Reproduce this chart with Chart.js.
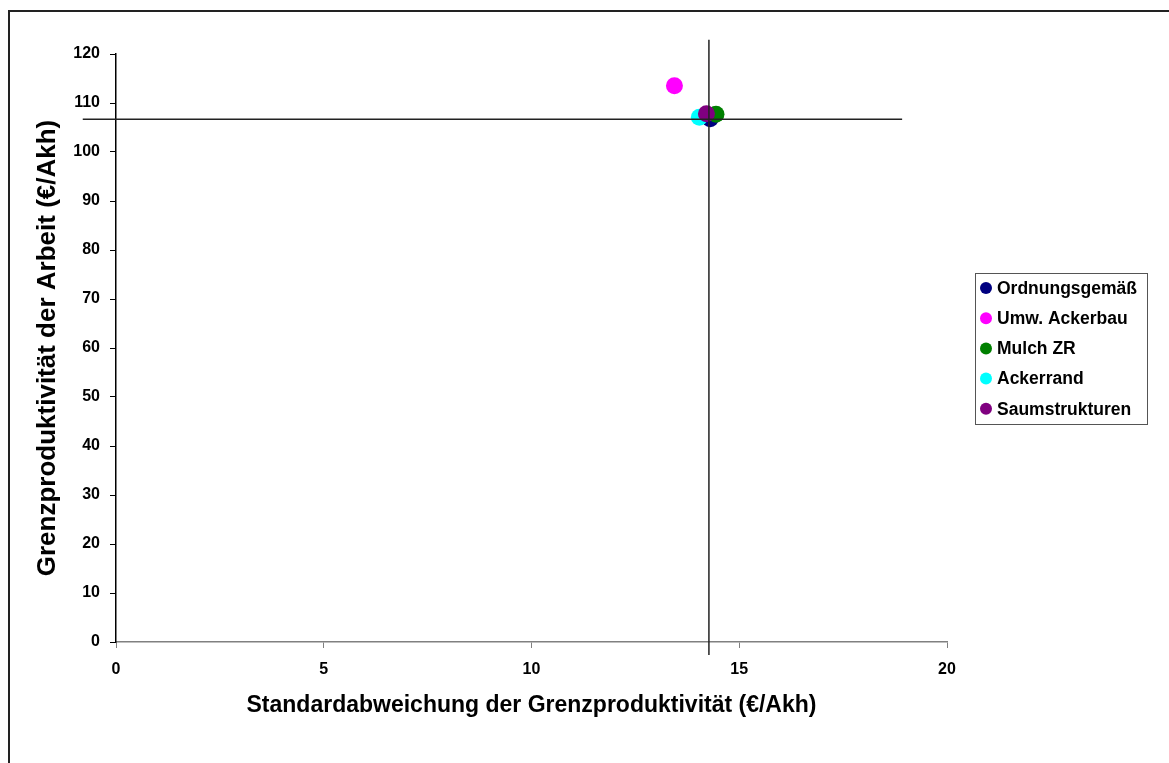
<!DOCTYPE html>
<html>
<head>
<meta charset="utf-8">
<script src="https://cdn.jsdelivr.net/npm/chart.js@4.4.1/dist/chart.umd.min.js"></script>
<style>
  html, body { margin: 0; padding: 0; background: #fff; }
  #wrap { position: relative; width: 1169px; height: 763px; }
  #frame { position: absolute; left: 8px; top: 10px; width: 1200px; height: 800px; border: 2px solid #222; box-sizing: border-box; }
  canvas { position: absolute; left: 0; top: 0; }
</style>
</head>
<body>
<div id="wrap">
  <div id="frame"></div>
  <canvas id="chart" width="1169" height="763"></canvas>
</div>
<script>
const seriesNames = ["Ordnungsgemäß", "Umw. Ackerbau", "Mulch ZR", "Ackerrand", "Saumstrukturen"]
const seriesColors = ["#000080", "#FF00FF", "#008000", "#00FFFF", "#800080"]
const stdDev = [14.3, 13.44, 14.44, 14.04, 14.21]
const marginal = [106.8, 113.5, 107.7, 107.1, 107.8]

// mean lines (drawn like the hand-drawn lines in the original)
const vLineX = [14.27, 14.27]
const vLineY = [-2.65, 122.9]
const hLineX = [-0.8, 18.92]
const hLineY = [106.7, 106.7]

const xTicks = [0, 5, 10, 15, 20]
const yTicks = [0, 10, 20, 30, 40, 50, 60, 70, 80, 90, 100, 110, 120]

const font = "'Liberation Sans', Arial, sans-serif"

const pointSets = seriesNames.map((name, i) => ({
  type: 'scatter',
  label: name,
  data: [{ x: stdDev[i], y: marginal[i] }],
  backgroundColor: seriesColors[i],
  borderWidth: 0,
  pointRadius: 8.5,
  pointHoverRadius: 8.5,
  order: seriesNames.length - i
}))

const lineSet = (xs, ys) => ({
  type: 'line',
  label: '',
  data: xs.map((x, i) => ({ x: x, y: ys[i] })),
  borderColor: '#222',
  borderWidth: 1.5,
  pointRadius: 0,
  showLine: true,
  clip: false,
  order: 0
})

const legendBox = {
  id: 'legendBox',
  afterDraw(chart) {
    const ctx = chart.ctx
    ctx.save()
    ctx.strokeStyle = '#555'
    ctx.lineWidth = 1
    ctx.strokeRect(975.5, 273.5, 172, 151)
    ctx.font = "bold 17.5px " + font
    ctx.textBaseline = 'middle'
    seriesNames.forEach((name, i) => {
      const y = 288 + i * 30.2
      ctx.fillStyle = seriesColors[i]
      ctx.beginPath()
      ctx.arc(986, y, 6, 0, Math.PI * 2)
      ctx.fill()
      ctx.fillStyle = '#000'
      ctx.fillText(name, 997, y + 1)
    })
    ctx.restore()
  }
}

new Chart(document.getElementById('chart'), {
  data: {
    datasets: [...pointSets, lineSet(vLineX, vLineY), lineSet(hLineX, hLineY)]
  },
  options: {
    responsive: false,
    animation: false,
    layout: { padding: { left: 0, top: 54, right: 222, bottom: 0 } },
    plugins: {
      legend: { display: false },
      tooltip: { enabled: false }
    },
    scales: {
      x: {
        type: 'linear',
        min: 0,
        max: 20,
        afterBuildTicks: (axis) => { axis.ticks = xTicks.map(v => ({ value: v })) },
        ticks: { color: '#000', font: { family: font, size: 16, weight: 'bold' }, padding: 12 },
        grid: { drawOnChartArea: false, tickLength: 6, color: '#808080' },
        border: { color: '#808080', width: 1.5 },
        title: {
          display: true,
          text: 'Standardabweichung der Grenzproduktivität (€/Akh)',
          color: '#000',
          font: { family: font, size: 23, weight: 'bold' },
          padding: { top: 0, bottom: 44 }
        },
        afterFit: (axis) => { axis.height = 121 }
      },
      y: {
        type: 'linear',
        min: 0,
        max: 120,
        afterBuildTicks: (axis) => { axis.ticks = yTicks.map(v => ({ value: v })) },
        ticks: { color: '#000', font: { family: font, size: 16, weight: 'bold' }, padding: 10 },
        grid: { drawOnChartArea: false, tickLength: 6, color: '#000' },
        border: { color: '#000', width: 1.5 },
        title: {
          display: true,
          text: 'Grenzproduktivität der Arbeit (€/Akh)',
          color: '#000',
          font: { family: font, size: 26, weight: 'bold' },
          padding: { top: 32, bottom: 0 }
        },
        afterFit: (axis) => { axis.width = 116 }
      }
    }
  },
  plugins: [legendBox]
})
</script>
</body>
</html>
